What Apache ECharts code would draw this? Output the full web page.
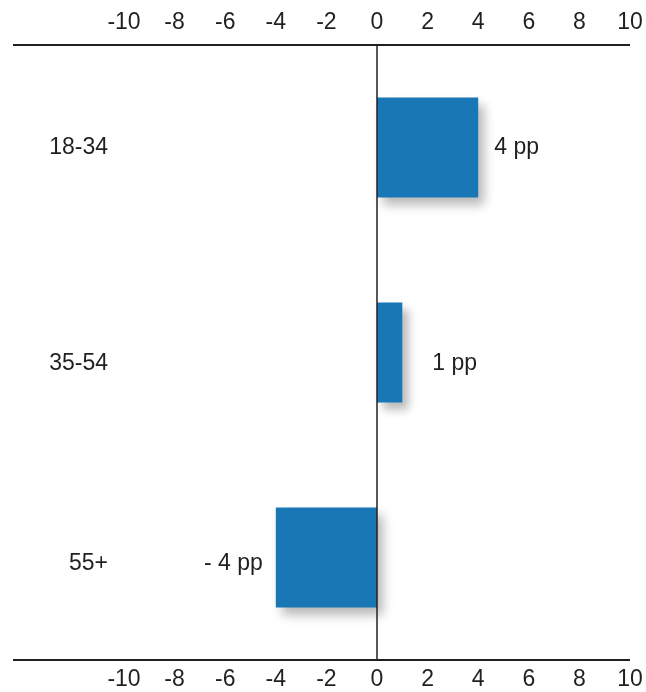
<!DOCTYPE html>
<html>
<head>
<meta charset="utf-8">
<script src="https://cdn.jsdelivr.net/npm/echarts@6/dist/echarts.min.js"></script>
<style>
  html, body { margin: 0; padding: 0; background: #ffffff; }
  #chart { width: 646px; height: 692px; }
</style>
</head>
<body>
<div id="chart"></div>
<script>
// Change by age group, in percentage points
const ageGroups = ['18-34', '35-54', '55+'];
const changePP = [4, 1, -4];
const valueLabels = ['4 pp', '1 pp', '- 4 pp'];
const labelGaps = [16, 30, 13];
const labelDrops = [0, 11, 6];

const ink = '#231f20';
const barBlue = '#1977b5';
const font = '"Liberation Sans", Arial, sans-serif';
const fontSize = 23;

const chart = echarts.init(document.getElementById('chart'), null, { renderer: 'canvas' });

const valueAxis = (position, margin) => ({
  type: 'value',
  position: position,
  min: -10,
  max: 10,
  interval: 2,
  axisLine: { show: false },
  axisTick: { show: false },
  splitLine: { show: false },
  axisLabel: { color: ink, fontSize: fontSize, fontFamily: font, margin: margin }
});

// One rich style per category so each label can sit at its own height
const richRows = {};
ageGroups.forEach((g, i) => {
  richRows['r' + i] = {
    color: ink, fontSize: fontSize, fontFamily: font,
    padding: [labelDrops[i] * 2, 0, 0, 0]
  };
});

chart.setOption({
  animation: false,
  grid: { left: 124, right: 16, top: 45, bottom: 32, outerBoundsMode: 'none' },
  xAxis: [valueAxis('top', 11), valueAxis('bottom', 8)],
  yAxis: {
    type: 'category',
    data: ageGroups,
    inverse: true,
    axisLine: { show: false, onZero: false },
    axisTick: { show: false },
    splitLine: { show: false },
    axisLabel: {
      margin: 16,
      formatter: (val, idx) => '{r' + idx + '|' + val + '}',
      rich: richRows
    }
  },
  series: [{
    type: 'bar',
    xAxisIndex: 0,
    barWidth: 100,
    data: changePP.map((v, i) => ({
      value: v,
      label: {
        show: true,
        position: v >= 0 ? 'right' : 'left',
        distance: labelGaps[i],
        offset: [0, labelDrops[i]],
        formatter: valueLabels[i]
      }
    })),
    itemStyle: {
      color: barBlue,
      shadowColor: 'rgba(0,0,0,0.28)',
      shadowBlur: 10,
      shadowOffsetX: 6,
      shadowOffsetY: 7
    },
    label: { color: ink, fontSize: fontSize, fontFamily: font },
    markLine: {
      silent: true,
      symbol: 'none',
      label: { show: false },
      lineStyle: { color: ink, width: 1.5, type: 'solid' },
      data: [{ xAxis: 0 }]
    }
  }]
});

// Full-width rules along the top and bottom edges of the plot
const gridTop = 45, gridBottom = 692 - 32;
const rule = y => ({
  type: 'line',
  shape: { x1: 13, y1: y, x2: 630, y2: y },
  style: { stroke: ink, lineWidth: 2 },
  z: 10
});
chart.setOption({ graphic: [rule(gridTop), rule(gridBottom)] });
</script>
</body>
</html>
